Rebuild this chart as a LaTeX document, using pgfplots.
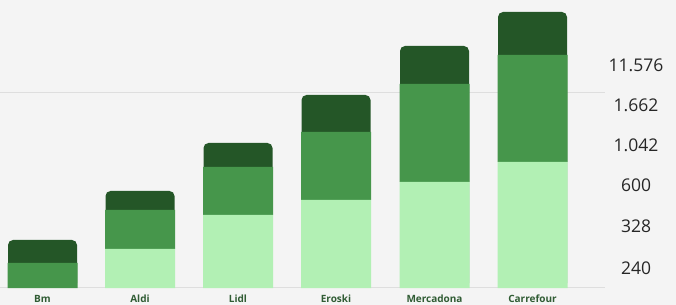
\documentclass[border=0pt]{standalone}
\usepackage{pgfplots}
\pgfplotsset{compat=1.18}
\usepackage{fontspec}
\setmainfont{Open Sans}
\newfontfamily\labfont{Open Sans}
\definecolor{bgcol}{RGB}{244,244,244}
\definecolor{lightg}{RGB}{178,240,180}
\definecolor{midg}{RGB}{70,150,75}
\definecolor{darkg}{RGB}{36,86,39}
\definecolor{labc}{RGB}{48,92,52}
\definecolor{gridc}{RGB}{222,222,222}
\pgfplotsset{common/.style={
  at={(0,17bp)}, anchor=south west,
  scale only axis, width=605bp, height=288bp,
  xmin=0, xmax=605, ymin=0, ymax=288,
  axis line style={draw=none}, major tick length=0pt,
  clip=false,
  /pgf/number format/assume math mode=true,
  every axis plot/.append style={draw=none},
}}
\begin{document}
\begin{tikzpicture}
\fill[bgcol] (0,0) rectangle (676bp,305bp);
\begin{axis}[common, ybar, bar width=69, xtick=\empty, ytick={0,195}, yticklabels={},
  ymajorgrids, major grid style={gridc, line width=1bp}]
\addplot[fill=darkg, rounded corners=5bp] coordinates {(42.5,48) (140,97) (238,145) (336,193) (434.5,242) (532.5,276)};
\end{axis}
\begin{axis}[common, ybar stacked, bar width=70,
  xtick={42.5,140,238,336,434.5,532.5},
  xticklabels={Bm,Aldi,Lidl,Eroski,Mercadona,Carrefour},
  xticklabel style={font=\labfont\fontsize{10bp}{12bp}\selectfont\bfseries, text=labc, anchor=center, yshift=-10.5bp},
  ytick={20,62,103,143,183,223},
  yticklabels={\mbox{240},\mbox{328},\mbox{600},\mbox{1.042},\mbox{1.662},\mbox{11.576}},
  yticklabel pos=right,
  yticklabel style={font=\fontsize{17.5bp}{20bp}\selectfont, text=black!85, anchor=center, xshift=31bp},
]
\addplot[fill=lightg] coordinates {(42.5,0) (140,39) (238,73) (336,88) (434.5,106) (532.5,126)};
\addplot[fill=midg] coordinates {(42.5,25) (140,39) (238,48) (336,68) (434.5,98) (532.5,107)};
\end{axis}
\pgfresetboundingbox
\path[use as bounding box] (0,0) rectangle (676bp,305bp);
\end{tikzpicture}
\end{document}
